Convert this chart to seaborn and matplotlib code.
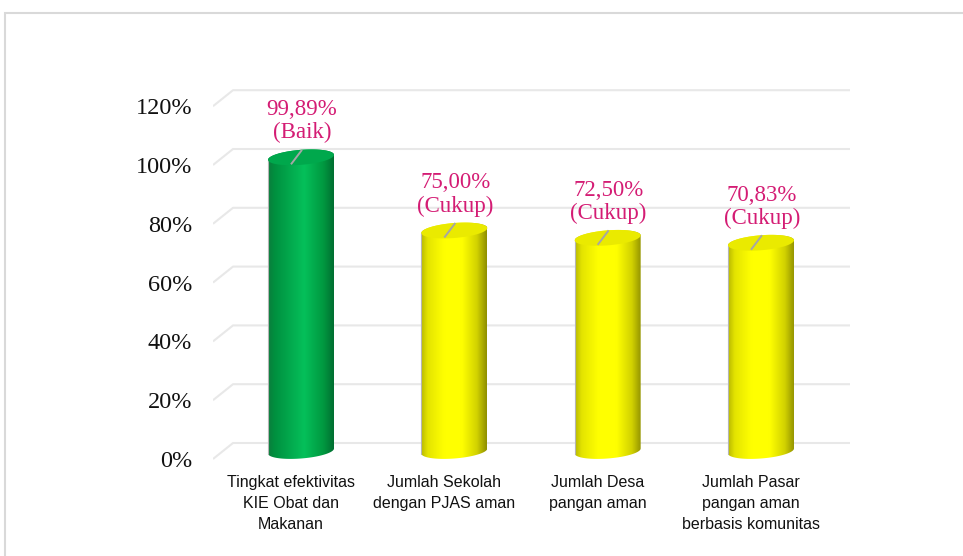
import numpy as np
import pandas as pd
import matplotlib
matplotlib.use("Agg")
import matplotlib.pyplot as plt
import seaborn as sns
from matplotlib.patches import PathPatch, Rectangle
from matplotlib.path import Path
from matplotlib.colors import LinearSegmentedColormap
from matplotlib.transforms import ScaledTranslation

# ---- data -------------------------------------------------------------
categories = [
    "Tingkat efektivitas\nKIE Obat dan\nMakanan",
    "Jumlah Sekolah\ndengan PJAS aman",
    "Jumlah Desa\npangan aman",
    "Jumlah Pasar\npangan aman\nberbasis komunitas",
]
values = [99.89, 75.00, 72.50, 70.83]
status = ["Baik", "Cukup", "Cukup", "Cukup"]
y_ticks = [0, 20, 40, 60, 80, 100, 120]
y_tick_labels = [f"{t}%" for t in y_ticks]

df = pd.DataFrame({"kategori": categories, "nilai": values, "status": status})

# ---- styling ----------------------------------------------------------
base_color = {"Baik": "#00b050", "Cukup": "#ffff00"}
body_shade = {
    "Baik": LinearSegmentedColormap.from_list(
        "g", [(0, "#0b7d3c"), (0.1, "#00903f"), (0.55, "#05c05a"),
              (0.85, "#00973f"), (1, "#006e31")]),
    "Cukup": LinearSegmentedColormap.from_list(
        "y", [(0, "#b8b800"), (0.1, "#e4e400"), (0.35, "#ffff00"),
              (0.62, "#ffff00"), (0.85, "#d2d200"), (1, "#8e8e00")]),
}
top_color = {"Baik": "#00a84c", "Cukup": "#eaea00"}
label_color = "#d41c74"
grid_color = "#e8e8e8"

sns.set_theme(style="white")
plt.rcParams["font.family"] = ["Liberation Sans", "DejaVu Sans"]

W, H, DPI = 963, 556, 100
fig = plt.figure(figsize=(W / DPI, H / DPI), dpi=DPI)
fig.patch.set_facecolor("white")

# outer frame of the chart area
fig.patches.append(Rectangle((5 / W, -0.1), 1.2, 1 - 13 / H + 0.1,
                             transform=fig.transFigure, fill=False,
                             edgecolor="#d9d9d9", linewidth=1.5))

# axes geometry (pixels)
ax_l, ax_r, ax_t, ax_b = 213, 850, 80, 470
x0_px, x_step = 301, 153.33      # pixel of first category centre, spacing
y0_px, y_step = 451, 2.94        # pixel of 0 %, pixels per 1 %
ax = fig.add_axes([ax_l / W, 1 - ax_b / H, (ax_r - ax_l) / W, (ax_b - ax_t) / H])
xlim = ((ax_l - x0_px) / x_step, (ax_r - x0_px) / x_step)
ylim = ((y0_px - ax_b) / y_step, (y0_px - ax_t) / y_step)

px_x = lambda p: p / x_step      # pixel -> data units (x)
px_y = lambda p: p / y_step      # pixel -> data units (y)

bar_w = px_x(66)
sns.barplot(data=df, x="kategori", y="nilai", hue="status", palette=base_color,
            width=bar_w, dodge=False, legend=False, ax=ax, zorder=3)

# ---- 3D wall gridlines -------------------------------------------------
depth_x, depth_y = px_x(20), px_y(8)
for t in y_ticks:
    ax.plot([xlim[0], xlim[0] + depth_x, xlim[1]],
            [t - depth_y, t + depth_y, t + depth_y],
            color=grid_color, lw=1.5, zorder=1, solid_capstyle="butt")

# ---- cylinders ---------------------------------------------------------
ell_b = px_y(7.5)                       # half height of the end ellipses
shear = (5 / 66) * x_step / y_step      # slight tilt of the ellipses
tt = np.linspace(0, np.pi, 60)

for p in list(ax.patches):
    h = p.get_height()
    if not np.isfinite(h) or h <= 0:
        continue
    xc = p.get_x() + p.get_width() / 2
    a = p.get_width() / 2
    i = int(round(xc))
    st = status[i]
    p.set_visible(False)

    # outline of the body: lower half of bottom ellipse, upper half of top
    bx = xc + a * np.cos(np.pi + tt)
    by = 0 - ell_b * np.sin(tt) + shear * (bx - xc)
    tx = xc + a * np.cos(tt)
    ty = h + ell_b * np.sin(tt) + shear * (tx - xc)
    verts = np.vstack([np.column_stack([bx, by]), np.column_stack([tx, ty]),
                       [[bx[0], by[0]]]])
    body = PathPatch(Path(verts, closed=True), facecolor="none",
                     edgecolor="none", zorder=3)
    ax.add_patch(body)
    grad = np.linspace(0, 1, 256).reshape(1, -1)
    im = ax.imshow(grad, cmap=body_shade[st], aspect="auto",
                   extent=(xc - a, xc + a, -3 * ell_b, h + 3 * ell_b),
                   interpolation="bicubic", zorder=3)
    im.set_clip_path(body)

    # thin light rim on the left side
    ax.plot([xc - a, xc - a], [0 - shear * a, h - shear * a],
            color="#b5b5b5", lw=0.8, zorder=4)

    # top face
    t2 = np.linspace(0, 2 * np.pi, 120)
    ex = xc + a * np.cos(t2)
    ey = h + ell_b * np.sin(t2) + shear * (ex - xc)
    ax.fill(ex, ey, color=top_color[st], zorder=4, lw=0)

    # leader line from the top face towards the label
    ax.plot([xc - px_x(10), xc + px_x(1)], [h - px_y(7), h + px_y(7.5)],
            color="#a6a6a6", lw=1.4, zorder=5, solid_capstyle="butt")

    # value label
    txt = f"{values[i]:.2f}".replace(".", ",") + "%"
    ax.text(xc + px_x(1), h + px_y(47.5), txt, ha="center", va="center",
            color=label_color, fontsize=16.5, family="Liberation Serif",
            zorder=6)
    ax.text(xc + px_x(1), h + px_y(24.5), f"({st})", ha="center", va="center",
            color=label_color, fontsize=16.5, family="Liberation Serif",
            zorder=6)

ax.set_xlim(xlim)
ax.set_ylim(ylim)

# ---- axes text ---------------------------------------------------------
ax.set_yticks(y_ticks)
ax.set_yticklabels(y_tick_labels, family="Liberation Serif", fontsize=17.5,
                   color="#111111")
ax.tick_params(axis="y", length=0, pad=15)
down = ScaledTranslation(0, -8 / DPI, fig.dpi_scale_trans)
for lab in ax.get_yticklabels():
    lab.set_transform(lab.get_transform() + down)

ax.set_xticks(range(len(categories)))
ax.set_xticklabels(categories, fontsize=11.5, color="#111111", linespacing=1.5)
ax.tick_params(axis="x", length=0, pad=3.5)
left = ScaledTranslation(-10 / DPI, 0, fig.dpi_scale_trans)
for lab in ax.get_xticklabels():
    lab.set_transform(lab.get_transform() + left)

ax.set_xlabel("")
ax.set_ylabel("")
for s in ax.spines.values():
    s.set_visible(False)
ax.set_facecolor("none")

fig.savefig("out.png", dpi=DPI, facecolor="white")
